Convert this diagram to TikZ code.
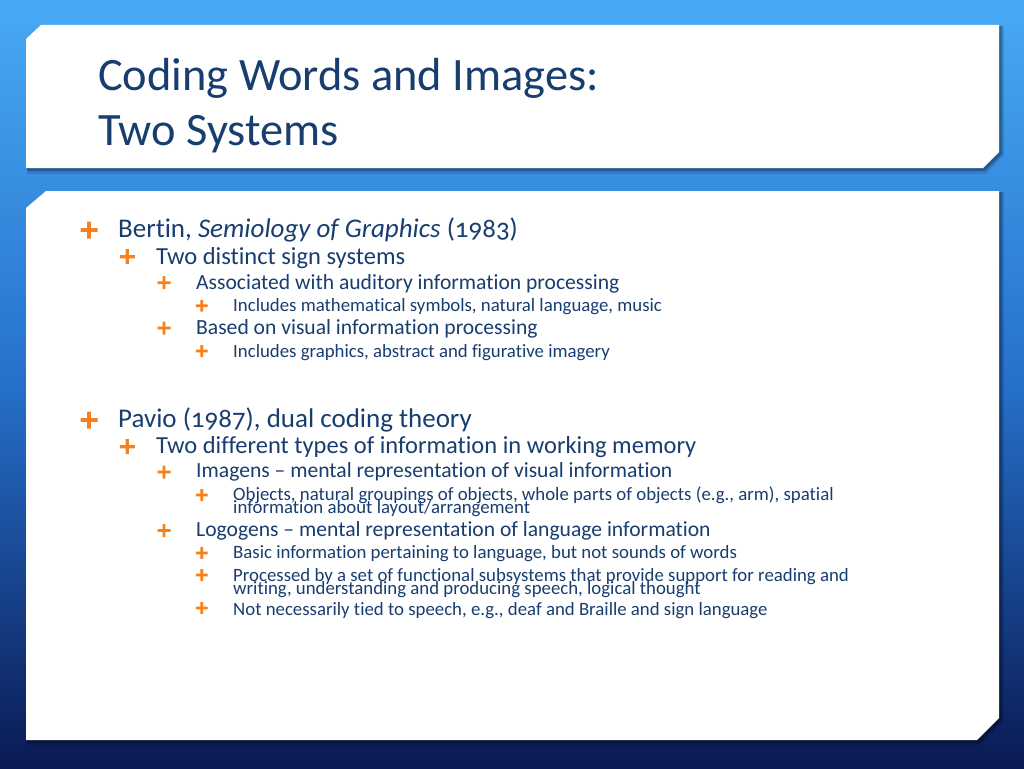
\documentclass[tikz,border=0pt]{standalone}
\usepackage{fontspec}
\setmainfont{Carlito}[Numbers=OldStyle,Ligatures=NoCommon]
\definecolor{bgtop}{RGB}{72,170,246}
\definecolor{bgmid}{RGB}{38,112,202}
\definecolor{bgbot}{RGB}{10,26,84}
\definecolor{txt}{RGB}{24,62,112}
\definecolor{plus}{RGB}{245,128,28}
\tikzset{
  panel/.style={fill=white},
  shadow/.style={fill=black,opacity=0.28},
  softshadow/.style={fill=black,opacity=0.12},
  ttl/.style={anchor=base west,inner sep=0pt,text=txt,font=\fontsize{46.4}{55}\selectfont},
  lone/.style={anchor=base west,inner sep=0pt,text=txt,font=\fontsize{27}{30}\selectfont},
  ltwo/.style={anchor=base west,inner sep=0pt,text=txt,font=\fontsize{24.5}{28}\selectfont},
  lthree/.style={anchor=base west,inner sep=0pt,text=txt,font=\fontsize{21.6}{25}\selectfont},
  lfour/.style={anchor=base west,inner sep=0pt,text=txt,font=\fontsize{18.8}{22}\selectfont},
}
\newcommand\plusmk[3]{\fill[plus,shift={(#1)}] (-#2,-#3) rectangle (#2,#3) (-#3,-#2) rectangle (#3,#2);}
\begin{document}
\begin{tikzpicture}[x=1pt,y=-1pt]
\useasboundingbox (0,0) rectangle (1024,768);
% background
\shade[top color=bgmid,bottom color=bgbot] (0,384) rectangle (1024,768);
\shade[top color=bgtop,bottom color=bgmid] (0,0) rectangle (1024,385);
% shadows
\fill[softshadow] (27,42) -- (44,26) -- (1004,26) -- (1004,155) -- (986,174) -- (27,174) -- cycle;
\fill[shadow] (27,41) -- (43,26) -- (1002,26) -- (1002,154) -- (985,171) -- (27,171) -- cycle;
\fill[softshadow] (27,211) -- (48,192) -- (1004,192) -- (1004,721) -- (981,746) -- (27,746) -- cycle;
\fill[shadow] (27,210) -- (47,192) -- (1002,192) -- (1002,720) -- (980,743) -- (27,743) -- cycle;
% panels
\fill[panel] (26,39) -- (41,25) -- (999,25) -- (999,152) -- (983,168) -- (26,168) -- cycle;
\fill[panel] (26,208) -- (46,191) -- (999,191) -- (999,718) -- (977,740) -- (26,740) -- cycle;
% title
\node[ttl] (t1) at (98,90) {Coding Words and Images:};
\node[ttl] (t2) at (98,145) {Two Systems};
% bullet positions
\coordinate (b1) at (89,230);
\coordinate (b2) at (127.3,256.7);
\coordinate (b3) at (164,282.7);
\coordinate (b4) at (201.7,305.7);
\coordinate (b5) at (164,328);
\coordinate (b6) at (201.7,351);
\coordinate (c1) at (89,420);
\coordinate (c2) at (127.3,446.7);
\coordinate (c3) at (164,472);
\coordinate (c4) at (201.7,495);
\coordinate (c5) at (164,530.5);
\coordinate (c6) at (201.7,553);
\coordinate (c7) at (201.7,575);
\coordinate (c8) at (201.7,608);
\plusmk{b1}{8.5}{1.8}
\plusmk{b2}{7.5}{1.6}
\plusmk{b3}{6.5}{1.45}
\plusmk{b4}{5.8}{1.3}
\plusmk{b5}{6.5}{1.45}
\plusmk{b6}{5.8}{1.3}
\plusmk{c1}{8.5}{1.8}
\plusmk{c2}{7.5}{1.6}
\plusmk{c3}{6.5}{1.45}
\plusmk{c4}{5.8}{1.3}
\plusmk{c5}{6.5}{1.45}
\plusmk{c6}{5.8}{1.3}
\plusmk{c7}{5.8}{1.3}
\plusmk{c8}{5.8}{1.3}
% section 1
\node[lone] (s1) at (118,237) {Bertin, \textit{Semiology of Graphics} (1983)};
\node[ltwo] (s2) at (156,264) {Two distinct sign systems};
\node[lthree] (s3) at (196,289) {Associated with auditory information processing};
\node[lfour] (s4) at (233,311) {Includes mathematical symbols, natural language, music};
\node[lthree] (s5) at (196,334) {Based on visual information processing};
\node[lfour] (s6) at (233,357) {Includes graphics, abstract and figurative imagery};
% section 2
\node[lone] (r1) at (118,427) {Pavio (1987), dual coding theory};
\node[ltwo] (r2) at (156,453) {Two different types of information in working memory};
\node[lthree] (r3) at (196,477) {Imagens -- mental representation of visual information};
\node[lfour] (r4) at (233,500) {Objects, natural groupings of objects, whole parts of objects (e.g., arm), spatial};
\node[lfour] (r4b) at (233,513) {information about layout/arrangement};
\node[lthree] (r5) at (196,536) {Logogens -- mental representation of language information};
\node[lfour] (r6) at (233,558.5) {Basic information pertaining to language, but not sounds of words};
\node[lfour] (r7) at (233,581.5) {Processed by a set of functional subsystems that provide support for reading and};
\node[lfour] (r7b) at (233,594) {writing, understanding and producing speech, logical thought};
\node[lfour] (r8) at (233,615) {Not necessarily tied to speech, e.g., deaf and Braille and sign language};
\end{tikzpicture}
\end{document}
